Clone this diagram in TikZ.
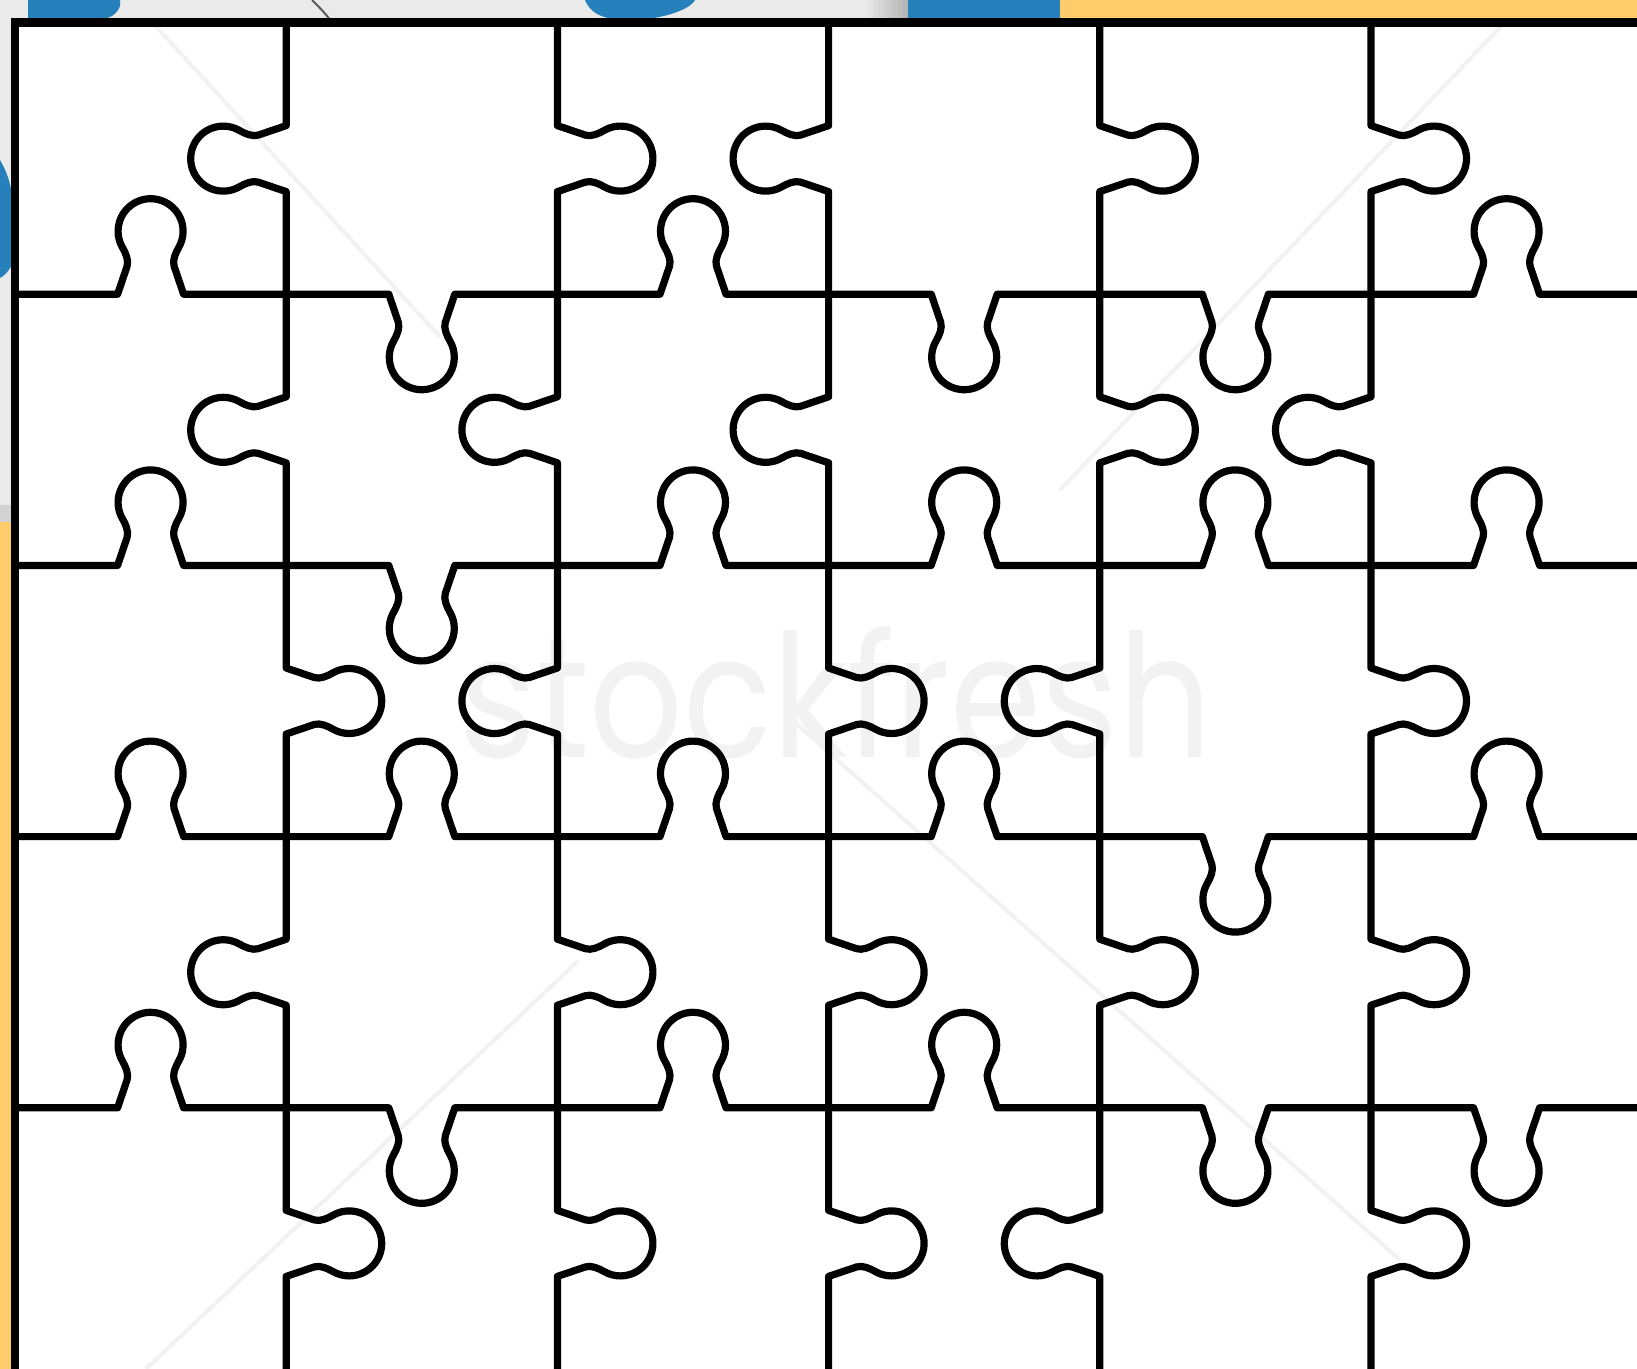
\documentclass[tikz,border=0pt]{standalone}
\usepackage{fontspec}
\newfontfamily\wmfont{Poppins}
\definecolor{lgray}{RGB}{234,234,234}
\definecolor{pblue}{RGB}{38,128,188}
\definecolor{pyellow}{RGB}{254,204,106}
\newcommand{\tabpath}{(-135.6,0) -- (-33,0) -- (-23.5,28)
   .. controls (-21.6,33.7) and (-25.1,41.55) .. (-28.15,46.75)
   arc[start angle=210, end angle=-30, radius=32.5]
   .. controls (25.1,41.55) and (21.6,33.7) .. (23.5,28) -- (33,0) -- (135.6,0)}
\begin{document}
\begin{tikzpicture}[x=0.1mm,y=-0.1mm,
  puz/.style={line width=0.72mm,line join=round,line cap=round},
  wml/.style={line width=0.4mm,black!5}]
\useasboundingbox (0,0) rectangle (1637,1369);
\clip (0,0) rectangle (1637,1369);
\fill[white] (0,0) rectangle (1637,1369);
% top strip
\fill[lgray] (0,0) rectangle (1637,22);
\fill[pblue] (908,0) rectangle (1060,22);
\fill[pyellow] (1060,0) rectangle (1637,22);
\fill[pblue] (28,0) -- (28,20) -- (95,20) .. controls (115,20) and (122,8) .. (120,0) -- cycle;
\fill[pblue] (585,0) .. controls (590,12) and (600,20) .. (630,20) .. controls (660,20) and (690,10) .. (695,0) -- cycle;
\draw[gray!70!black, line width=0.2mm] (312,0) .. controls (320,8) and (326,14) .. (330,20);
\shade[left color=lgray, right color=gray!60] (865,0) rectangle (908,20);
% left strip
\fill[lgray] (0,0) rectangle (12,1369);
\fill[gray!35] (0,505) rectangle (12,522);
\fill[pyellow] (0,522) rectangle (12,1369);
\fill[pblue] (0,160) .. controls (6,170) and (12,185) .. (12,200) -- (12,265) .. controls (8,272) and (4,276) .. (0,278) -- cycle;
% watermark
\draw[wml] (151,21) -- (440,337);
\draw[wml] (790,718) -- (1400,1260);
\draw[wml] (1507,20) -- (1060,490);
\draw[wml] (578,961) -- (146,1369);
\node[anchor=base west, inner sep=0, text=black!5] (wm) at (459,757)
  {\resizebox{75.2mm}{13.1mm}{\wmfont stockfresh}};
% vertical edges (d=1: tab to the right)
\foreach \row [count=\r from 0] in {{-1,1,-1,1,1},{-1,-1,-1,1,-1},{1,-1,1,-1,1},{-1,1,1,1,1},{1,1,1,-1,1}}{
  \foreach \d [count=\i] in \row {
    \pgfmathsetmacro\xx{15+\i*271.2}
    \pgfmathsetmacro\yy{23+\r*271.2+135.6}
    \ifnum\d=1 \def\nd{-1}\else\def\nd{1}\fi
    \draw[puz, cm={0,\nd,\nd,0,(\xx,\yy)}] \tabpath;
  }
}
% horizontal edges (d=1: tab downward)
\foreach \row [count=\j] in {{-1,1,-1,1,1,-1},{-1,1,-1,-1,-1,-1},{-1,-1,-1,-1,1,-1},{-1,1,-1,-1,1,1}}{
  \foreach \d [count=\c from 0] in \row {
    \pgfmathsetmacro\xx{15+\c*271.2+135.6}
    \pgfmathsetmacro\yy{23+\j*271.2}
    \draw[puz, shift={(\xx,\yy)}, yscale=\d] \tabpath;
  }
}
% border
\draw[line width=0.72mm] (15,18) -- (15,1369);
\draw[line width=0.95mm] (11.5,22.5) -- (1637,22.5);
\end{tikzpicture}
\end{document}
